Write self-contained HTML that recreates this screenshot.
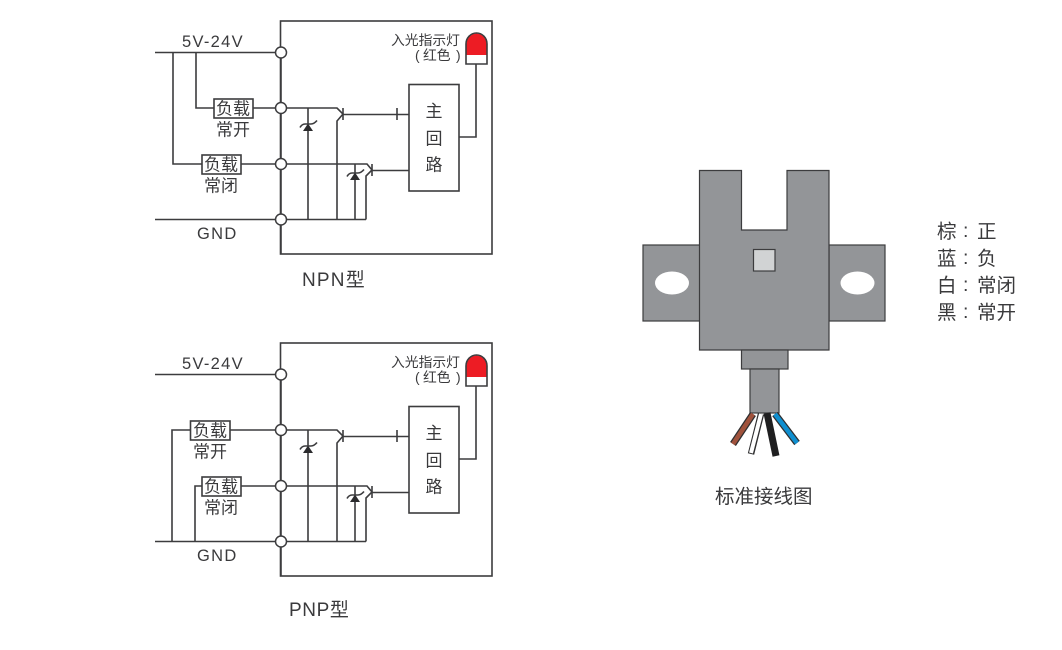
<!DOCTYPE html>
<html><head><meta charset="utf-8">
<style>
html,body{margin:0;padding:0;background:#fff;width:1062px;height:650px;overflow:hidden}
svg{display:block}
text{font-family:"Liberation Sans","Noto Sans CJK SC",sans-serif;fill:#3a3a3c}
.l{fill:none;stroke:#3c3c3e;stroke-width:1.6}
.c{fill:#fff;stroke:#3c3c3e;stroke-width:1.5}
.b{fill:#fff;stroke:#3c3c3e;stroke-width:1.6}
.t{font-size:16.5px;letter-spacing:1.3px}
.z{font-size:17px}
.s{font-size:13.8px}
.m{font-size:17px}
.g{fill:#939598;stroke:#3c3c3e;stroke-width:1.2}
.n{font-size:19.500px}
</style></head>
<body>
<svg width="1062" height="650" viewBox="0 0 1062 650" xmlns="http://www.w3.org/2000/svg">
<defs>
<g id="common">
  <rect class="l" x="280.5" y="21" width="211.5" height="233"/>
  <path class="l" d="M281 108H337L343 114L337 121V219.5"/>
  <path class="l" d="M281 164H367L372 170L366 176V219.5"/>
  <path class="l" d="M343 108V120M343 114.5H409M397 108V120M372 164V176M372 170.5H409"/>
  <path class="l" d="M308 108V219.5M355 164V219.5"/>
  <path d="M303 131L308 123.500L313 131Z" fill="#2b2b2d"/>
  <path d="M350 180L355 172.500L360 180Z" fill="#2b2b2d"/>
  <path class="l" d="M300 127.500Q302 124 305 124H311Q314 124 317 120.500"/>
  <path class="l" d="M347 176.500Q349 173 352 173H358Q361 173 364 169.500"/>
  <rect class="l" x="409" y="84.500" width="50" height="106.500" fill="#fff"/>
  <path class="l" d="M459 137H476V64"/>
  <path d="M466 64V44A10.500 11 0 0 1 487 44V64Z" fill="#fff"/>
  <path d="M466.500 55V44A10 10.500 0 0 1 486.500 44V55Z" fill="#ed1c24"/>
  <path class="l" d="M466 64V44A10.500 11 0 0 1 487 44V64Z"/>
  <text class="s" x="391" y="45">入光指示灯</text>
  <text class="s" x="415" y="60">(</text><text class="s" x="423" y="60">红色</text><text class="s" x="456" y="60">)</text>
  <text class="m" x="425.500" y="117">主</text>
  <text class="m" x="425.500" y="144.500">回</text>
  <text class="m" x="425.500" y="170.500">路</text>
  <text class="t" x="182" y="47">5V-24V</text>
  <text class="t" x="197" y="239">GND</text>
</g>
<g id="circles">
  <circle class="c" cx="281" cy="52.500" r="5.500"/>
  <circle class="c" cx="281" cy="108" r="5.500"/>
  <circle class="c" cx="281" cy="164" r="5.500"/>
  <circle class="c" cx="281" cy="219.500" r="5.500"/>
</g>
</defs>

<!-- NPN -->
<use href="#common"/>
<path class="l" d="M155 52.500H281M173 52.500V164H202M196 52.500V108H214M253 108H281M241 164H281M155 219.500H366"/>
<path class="l" d="M281 52.500V254"/>
<rect class="b" x="214" y="99" width="39" height="19"/>
<rect class="b" x="202" y="155" width="39" height="19"/>
<text class="z" x="216" y="114.500">负载</text>
<text class="z" x="204" y="170.500">负载</text>
<text class="z" x="216" y="135.500">常开</text>
<text class="z" x="204" y="191.500">常闭</text>
<use href="#circles"/>
<text x="302" y="286" style="font-size:19px;letter-spacing:1.2px">NPN型</text>

<!-- PNP -->
<g transform="translate(0,322)"><use href="#common"/></g>
<path class="l" d="M155 374.500H281M172 541.500V430H190M195 541.500V486H202M230 430H281M241 486H281M155 541.500H366"/>
<path class="l" d="M281 374.500V576"/>
<rect class="b" x="190.500" y="421" width="39.500" height="19"/>
<rect class="b" x="202" y="477" width="39" height="19"/>
<text class="z" x="193" y="436.500">负载</text>
<text class="z" x="204" y="492.500">负载</text>
<text class="z" x="193" y="457.500">常开</text>
<text class="z" x="204" y="513.500">常闭</text>
<g transform="translate(0,322)"><use href="#circles"/></g>
<text x="289" y="616" style="font-size:19px;letter-spacing:0.6px">PNP型</text>

<!-- Sensor -->
<rect class="g" x="643" y="245" width="57" height="76"/>
<rect class="g" x="829" y="245" width="56" height="76"/>
<path class="g" d="M699.500 170.500H741.500V230H787V170.500H829V350H699.500Z"/>
<rect x="753.500" y="249.500" width="21.500" height="21.500" fill="#d1d3d4" stroke="#3c3c3e" stroke-width="1.200"/>
<ellipse cx="672" cy="283" rx="17" ry="11.500" fill="#fff"/>
<ellipse cx="857.500" cy="283" rx="17" ry="11.500" fill="#fff"/>
<rect class="g" x="741.500" y="350" width="46.500" height="19"/>
<rect class="g" x="750" y="369" width="29" height="44"/>
<path d="M753 414L733 444" stroke="#2f2f30" stroke-width="7" fill="none"/>
<path d="M753 414L733 444" stroke="#a0523c" stroke-width="4.500" fill="none"/>
<path d="M761 414L751 454" stroke="#2f2f30" stroke-width="6.500" fill="none"/>
<path d="M761 414L751 453" stroke="#fff" stroke-width="4" fill="none"/>
<path d="M767 413L776 456" stroke="#1f1f20" stroke-width="7" fill="none"/>
<path d="M775 414L797 443" stroke="#2f2f30" stroke-width="7" fill="none"/>
<path d="M775 414L797 443" stroke="#0f8fd0" stroke-width="4.500" fill="none"/>
<text class="n" x="715" y="503">标准接线图</text>

<!-- Legend -->
<text class="n" x="937" y="238">棕</text><text class="n" x="963" y="237">:</text><text class="n" x="977" y="238">正</text>
<text class="n" x="937" y="265">蓝</text><text class="n" x="963" y="264">:</text><text class="n" x="977" y="265">负</text>
<text class="n" x="937" y="292">白</text><text class="n" x="963" y="291">:</text><text class="n" x="977" y="292">常闭</text>
<text class="n" x="937" y="319">黑</text><text class="n" x="963" y="318">:</text><text class="n" x="977" y="319">常开</text>
</svg>
</body></html>
